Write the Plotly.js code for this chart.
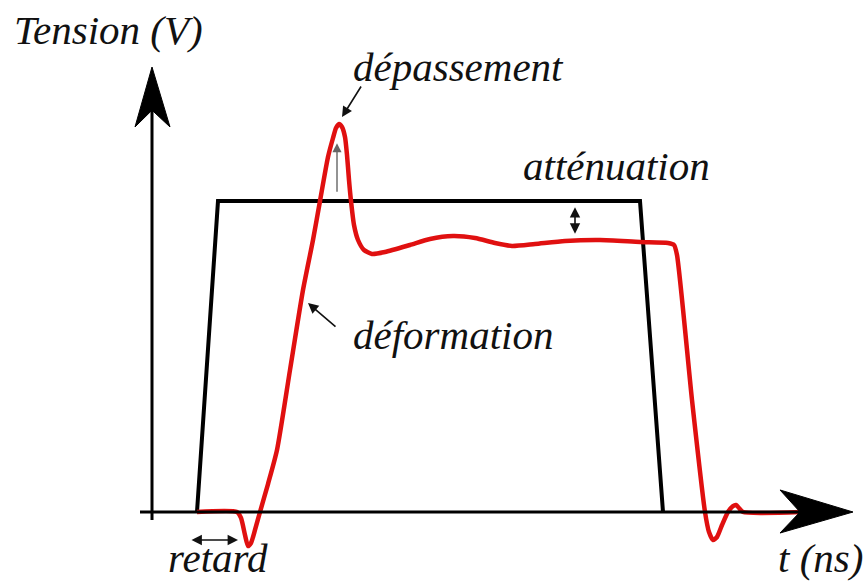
<!DOCTYPE html>
<html>
<head>
<meta charset="utf-8">
<script src="https://cdn.plot.ly/plotly-3.0.1.min.js"></script>
<style>body { margin: 0; }</style>
</head>
<body>
<div id="chart"></div>
<script>
// Ideal (emitted) pulse: time in ns, tension in V
var idealT = [0.90, 1.32, 9.76, 10.22];
var idealV = [0, 5.0, 5.0, 0];

// Received (distorted) pulse
var redT = [0.90, 1.70, 1.78, 1.86, 1.92, 1.98, 2.06, 2.16, 2.32, 2.50, 2.76, 3.02, 3.22, 3.36,
            3.52, 3.62, 3.68, 3.74, 3.80, 3.86, 3.90, 3.94, 3.98, 4.04, 4.12, 4.24, 4.40, 4.66,
            5.16, 5.56, 6.02, 6.46, 6.86, 7.20, 7.66, 8.26, 8.96, 9.76, 10.32, 10.44, 10.50,
            10.80, 11.06, 11.14, 11.22, 11.30, 11.40, 11.52, 11.62, 11.68, 11.74, 11.82, 12.96];
var redV = [0, 0, -0.096, -0.370, -0.547, -0.498, -0.289, 0, 0.450, 0.997, 2.283, 3.569, 4.373, 5.000,
            5.707, 6.013, 6.174, 6.238, 6.190, 6.029, 5.740, 5.338, 5.000, 4.614, 4.373, 4.212, 4.148, 4.180,
            4.293, 4.389, 4.437, 4.405, 4.325, 4.277, 4.309, 4.357, 4.373, 4.341, 4.325, 4.293, 4.132,
            1.801, 0, -0.322, -0.450, -0.402, -0.209, 0, 0.096, 0.113, 0.064, 0, 0];

// Text labels
var labelText = ["Tension (V)", "dépassement", "atténuation", "déformation", "retard", "t (ns)"];
var labelT    = [-2.80, 3.98, 7.38, 3.98, 0.28, 12.48];
var labelV    = [7.75, 7.15, 5.56, 2.85, -0.74, -0.74];

var traces = [
  {x: idealT, y: idealV, type: "scatter", mode: "lines",
   line: {color: "#000", width: 4}, hoverinfo: "skip"},
  {x: redT, y: redV, type: "scatter", mode: "lines",
   line: {color: "#e01010", width: 4.5, shape: "spline", smoothing: 0.6}, hoverinfo: "skip"}
];

var annotations = labelText.map(function (s, i) {
  return {x: labelT[i], y: labelV[i], xref: "x", yref: "y", text: s, showarrow: false,
          xanchor: "left", yanchor: "middle",
          font: {family: "Liberation Serif", size: 41, color: "#111111", style: "italic"}};
});

function arrow(x, y, ax, ay, opts) {
  var a = {x: x, y: y, xref: "x", yref: "y", ax: ax, ay: ay, axref: "pixel", ayref: "pixel",
           text: "", showarrow: true, arrowhead: 2, arrowsize: 1.3, arrowwidth: 1.6, arrowcolor: "#111"};
  for (var k in opts) a[k] = opts[k];
  return a;
}
annotations.push(arrow(3.80, 6.35, 20, -32, {}));                      // dépassement
annotations.push(arrow(3.12, 3.36, 29, 25, {}));                       // déformation
annotations.push(arrow(3.70, 5.93, 0, 50, {arrowcolor: "#666", arrowwidth: 1.4})); // overshoot height
annotations.push(arrow(8.46, 4.90, 0, 28, {arrowside: "end+start"}));  // atténuation
annotations.push(arrow(1.72, -0.45, -48, 0, {arrowside: "end+start"})); // retard

var shapes = [
  {type: "line", xref: "x", yref: "y", x0: 0, y0: -0.13, x1: 0, y1: 6.6, line: {color: "#000", width: 3}},
  {type: "path", xref: "x", yref: "y", path: "M 0,7.154 L 0.36,6.19 L 0,6.46 L -0.34,6.19 Z",
   fillcolor: "#000", line: {color: "#000", width: 1}},
  {type: "line", xref: "x", yref: "y", x0: -0.24, y0: 0, x1: 13.1, y1: 0, line: {color: "#000", width: 3}},
  {type: "path", xref: "x", yref: "y", path: "M 14.02,0 L 12.56,0.354 L 12.96,0 L 12.56,-0.338 Z",
   fillcolor: "#000", line: {color: "#000", width: 1}}
];

var layout = {
  width: 864, height: 584,
  margin: {l: 0, r: 0, t: 0, b: 0},
  paper_bgcolor: "#fff", plot_bgcolor: "#fff",
  font: {family: "Liberation Serif"},
  showlegend: false,
  xaxis: {range: [-3.04, 14.24], visible: false, fixedrange: true},
  yaxis: {range: [-1.1576, 8.2315], visible: false, fixedrange: true},
  shapes: shapes,
  annotations: annotations
};

Plotly.newPlot("chart", traces, layout, {displayModeBar: false});
</script>
</body>
</html>
